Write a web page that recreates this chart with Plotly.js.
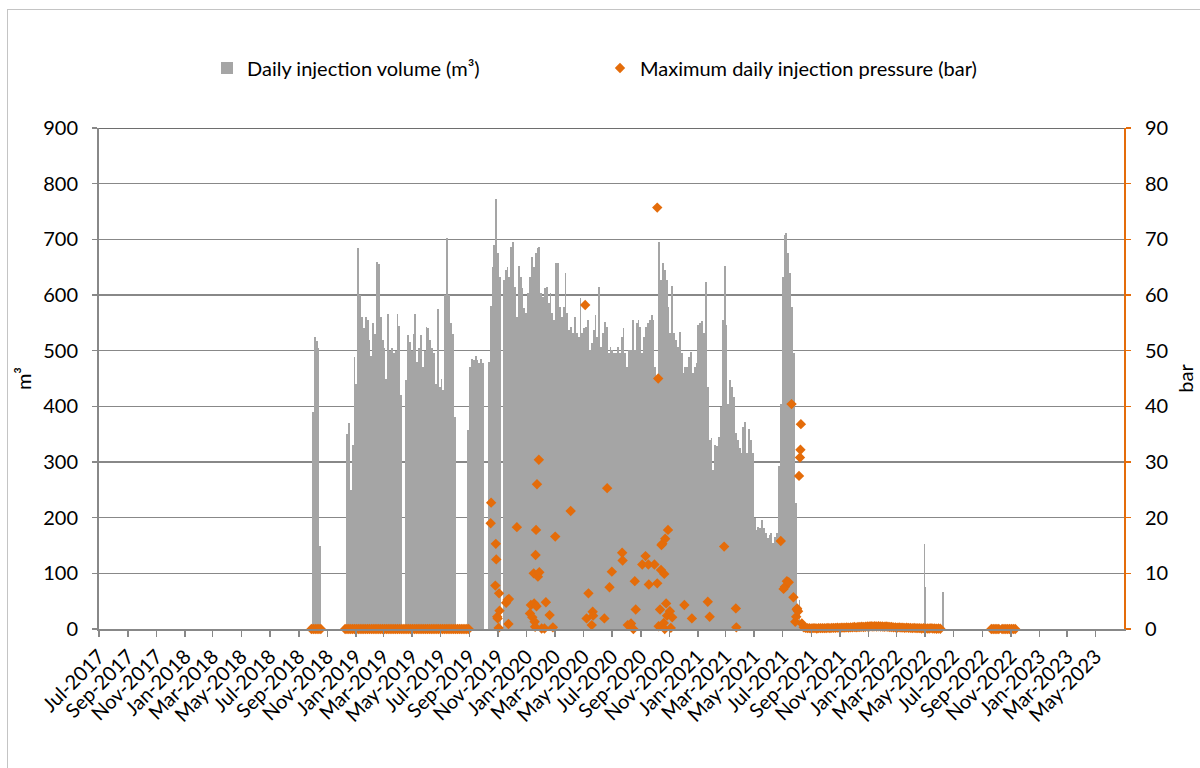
<!DOCTYPE html>
<html><head><meta charset="utf-8">
<script src="https://cdn.plot.ly/plotly-3.0.1.min.js"></script>
<style>
html,body{margin:0;padding:0;background:#fff;overflow:hidden;}
#chart{width:1200px;height:768px;}
#frame{position:absolute;left:7px;top:9px;width:1300px;height:900px;border:1px solid #c4c4c4;pointer-events:none;}
</style></head><body>
<div id="chart"></div><div id="frame"></div>
<script>
// ---------- Daily injection volume (m³), read as 4-day bins ----------
const volStepDays = 4;
const volRunStarts = ['2018-09-29', '2018-12-11', '2019-04-16', '2019-08-27', '2019-10-10', '2019-11-11'];
const volRunSep2018 = [390, 525, 518, 505, 150];
const volRunDec2018 = [350, 370, 250, 330, 489, 440, 685, 600, 560, 540, 560, 555, 520, 490, 550, 530, 660, 655, 560, 520, 505, 450, 565, 500, 505, 495, 500, 565, 545, 420];
const volRunApr2019 = [447, 528, 515, 500, 530, 566, 480, 505, 528, 470, 500, 543, 540, 520, 505, 496, 440, 575, 435, 450, 430, 600, 703, 600, 550, 530, 380];
const volRunAug2019 = [357, 470, 485, 484, 490, 483, 478, 485, 478];
const volRunOct2019 = [480, 580, 650, 690, 772, 675, 633];
const volRunNov2019 = [
  627,645,651,633,687,696,615,560,653,633,
  612,576,567,603,633,669,651,675,684,687,
  603,597,612,615,585,603,567,555,657,657,
  579,561,579,640,567,537,543,531,561,531,
  525,594,531,540,543,555,501,513,537,564,
  525,615,507,531,552,543,495,507,501,495,
  495,507,495,525,540,495,471,501,501,555,
  501,549,555,543,495,525,543,549,555,564,
  555,471,447,696,627,657,645,627,579,531,
  617,531,519,507,533,495,459,471,471,489,
  498,459,471,477,546,549,553,531,623,435,
  340,343,286,331,328,345,399,555,653,546,
  405,447,435,417,352,340,325,316,363,372,
  316,360,340,316,199,178,184,181,196,181,
  172,163,169,172,154,166,172,292,405,633,
  708,711,675,639,579,495,226,15,52];
const volExtraDates = ['2022-04-29', '2022-05-02', '2022-06-08'];
const volExtraValues = [153, 76, 67];

// ---------- Maximum daily injection pressure (bar) ----------
const presStepDays = 4;
const presRunStarts = ['2018-09-28', '2018-12-09', '2021-08-11', '2022-09-20', '2022-10-13'];
const presRunSep2018 = [0, 0, 0, 0, 0, 0];
const presRunDec2018 = [0,0,0,0,0,0,0,0,0,0, 0,0,0,0,0,0,0,0,0,0, 0,0,0,0,0,0,0,0,0,0,
  0,0,0,0,0,0,0,0,0,0, 0,0,0,0,0,0,0,0,0,0, 0,0,0,0,0,0,0,0,0,0, 0,0,0,0,0,0,0];
const presRunAug2021 = [
  1.0,0.3,0.2,0.15,0.15,0.1,0.15,0.15,0.1,0.15,0.15,0.15,
  0.15,0.15,0.2,0.15,0.2,0.2,0.2,0.25,0.2,0.25,0.25,0.25,
  0.3,0.25,0.3,0.3,0.35,0.3,0.35,0.35,0.4,0.35,0.4,0.45,
  0.45,0.5,0.45,0.5,0.45,0.5,0.45,0.45,0.4,0.45,0.4,0.35,
  0.35,0.3,0.3,0.25,0.3,0.25,0.25,0.2,0.25,0.2,0.2,0.15,
  0.2,0.15,0.15,0.15,0.1,0.15,0.1,0.1,0.1,0.15,0.1,0.1,0.05,0.1,0.05];
const presRunSep2022 = [0, 0, 0, 0, 0];
const presRunOct2022 = [0, 0, 0, 0, 0, 0, 0, 0];
const presDates = [
  '2019-10-16','2019-10-17','2019-10-26','2019-10-27','2019-10-28','2019-10-30','2019-10-31','2019-11-02','2019-11-03','2019-11-04',
  '2019-11-18','2019-11-21','2019-11-23','2019-11-24','2019-12-11',
  '2020-01-08','2020-01-10','2020-01-13','2020-01-16','2020-01-17','2020-01-18','2020-01-19','2020-01-20','2020-01-21','2020-01-22',
  '2020-01-23','2020-01-25','2020-01-27','2020-01-28','2020-02-02','2020-02-08','2020-02-11','2020-02-19','2020-02-26','2020-03-02',
  '2020-04-04','2020-05-05','2020-05-08','2020-05-12','2020-05-19','2020-05-21','2020-05-22','2020-06-15','2020-06-21','2020-06-26',
  '2020-07-01','2020-07-23','2020-07-24','2020-08-04','2020-08-11','2020-08-16','2020-08-19','2020-08-21',
  '2020-09-04','2020-09-11','2020-09-17','2020-09-18','2020-09-30','2020-10-06','2020-10-06','2020-10-08','2020-10-09','2020-10-12',
  '2020-10-14','2020-10-15','2020-10-17','2020-10-20','2020-10-21','2020-10-22','2020-10-23','2020-10-25','2020-10-27','2020-10-29',
  '2020-11-02','2020-11-04','2020-11-07','2020-12-03','2020-12-19',
  '2021-01-22','2021-01-26','2021-02-26','2021-03-23','2021-03-24',
  '2021-06-27','2021-07-03','2021-07-06','2021-07-10','2021-07-14','2021-07-20','2021-07-24','2021-07-28','2021-07-30','2021-07-31',
  '2021-08-01','2021-08-03','2021-08-05','2021-08-07','2021-08-08','2021-08-09'];
const presValues = [
  19.0,22.7,7.8,15.3,12.5,2.2,1.9,0.2,6.4,3.3,
  4.7,5.2,0.9,5.4,18.3,
  2.8,4.3,2.1,10.0,4.6,1.3,0.4,13.3,17.8,4.1,
  26.0,9.4,30.4,10.2,0.1,0.1,4.8,2.5,0.3,16.6,
  21.2,58.2,1.9,6.4,0.7,3.1,2.4,1.9,25.3,7.5,
  10.3,13.7,12.3,0.7,1.0,0,8.6,3.5,
  11.6,13.1,11.6,8.0,11.6,8.2,75.7,45.0,0.5,3.5,
  10.6,15.1,15.3,1.1,9.9,0,16.2,4.6,2.4,17.8,
  3.2,0.2,2.1,4.3,1.9,
  4.9,2.2,14.8,3.7,0.3,
  15.8,7.2,7.6,8.6,8.4,40.4,5.7,1.3,2.2,3.5,
  3.7,3.2,27.5,30.8,32.2,36.8];

// ---------- build traces ----------
const DAY = 86400000;
function addDays(iso, n) {
  const d = new Date(iso + 'T00:00:00Z');
  return new Date(d.getTime() + n * DAY).toISOString().slice(0, 19).replace('T', ' ');
}
const volRuns = [volRunSep2018, volRunDec2018, volRunApr2019, volRunAug2019, volRunOct2019, volRunNov2019];
const barX = [], barY = [], barW = [];
volRuns.forEach((run, r) => {
  run.forEach((v, i) => {
    barX.push(addDays(volRunStarts[r], i * volStepDays + volStepDays / 2));
    barY.push(v);
    barW.push(volStepDays * DAY);
  });
});
volExtraDates.forEach((d, i) => { barX.push(addDays(d, 0.5)); barY.push(volExtraValues[i]); barW.push(2.5 * DAY); });

const presRuns = [presRunSep2018, presRunDec2018, presRunAug2021, presRunSep2022, presRunOct2022];
const pX = [], pY = [];
presRuns.forEach((run, r) => {
  run.forEach((v, i) => { pX.push(addDays(presRunStarts[r], i * presStepDays)); pY.push(v); });
});
presDates.forEach((d, i) => { pX.push(addDays(d, 0)); pY.push(presValues[i]); });

const ORANGE = '#E46C0A';
const GREY = '#A5A5A5';
const FONT = 'Lato, "Open Sans", sans-serif';
const FS = 20;

const traces = [
  { type: 'bar', name: 'Daily injection volume (m³)', x: barX, y: barY, width: barW,
    marker: { color: GREY, line: { width: 0 } }, yaxis: 'y', hoverinfo: 'x+y' },
  { type: 'scatter', mode: 'markers', name: 'Maximum daily injection pressure (bar)', x: pX, y: pY,
    marker: { symbol: 'diamond', size: 8, color: ORANGE, line: { width: 0 } }, yaxis: 'y2', cliponaxis: false }
];

const layout = {
  width: 1200, height: 768,
  margin: { l: 99, r: 76, t: 128, b: 139 },
  paper_bgcolor: '#ffffff', plot_bgcolor: '#ffffff',
  font: { family: FONT, size: FS, color: '#000' },
  showlegend: true,
  legend: { orientation: 'h', xref: 'container', yref: 'container', x: 0.1725, y: 1 - 68 / 768,
            xanchor: 'left', yanchor: 'middle', entrywidth: 348, font: { size: FS, family: FONT }, bgcolor: 'rgba(0,0,0,0)' },
  bargap: 0,
  xaxis: { type: 'date', range: ['2017-07-01', '2023-06-30 12:00'], tick0: '2017-07-01', dtick: 'M2',
           tickformat: '%b-%Y', tickangle: -45, ticks: 'outside', ticklen: 6, tickcolor: '#888888', tickwidth: 1.5,
           showline: true, linecolor: '#888888', linewidth: 2, showgrid: false, zeroline: false,
           tickfont: { size: FS } },
  yaxis: { range: [0, 900], dtick: 100, ticks: 'outside', ticklen: 5, tickcolor: '#888888', tickwidth: 1.5,
           showline: true, linecolor: '#888888', linewidth: 2, gridcolor: '#888888', gridwidth: 1.6, zeroline: false,
           ticklabelstandoff: 10, tickfont: { size: FS },
           title: { text: 'm³', standoff: 6, font: { size: FS } } },
  yaxis2: { overlaying: 'y', side: 'right', range: [0, 90], dtick: 10, ticks: 'outside', ticklen: 5, tickcolor: ORANGE, tickwidth: 1.5,
            showline: true, linecolor: ORANGE, linewidth: 2, showgrid: false, zeroline: false,
            ticklabelstandoff: 10, tickfont: { size: FS },
            title: { text: 'bar', standoff: 12, font: { size: FS } } },
  shapes: [
    { type: 'line', xref: 'paper', yref: 'y', x0: 0, x1: 1, y0: 900, y1: 900, line: { color: '#6e6e6e', width: 2 }, layer: 'below' }
  ]
};

Plotly.newPlot('chart', traces, layout, { displayModeBar: false, staticPlot: true });
</script></body></html>
